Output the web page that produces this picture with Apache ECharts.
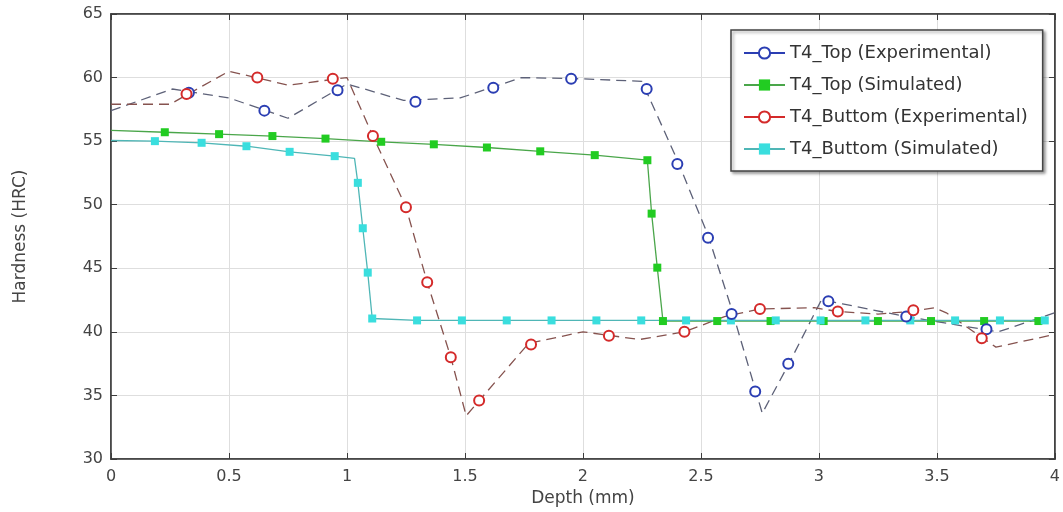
<!DOCTYPE html>
<html>
<head>
<meta charset="utf-8">
<title>Hardness vs Depth</title>
<script src="https://cdn.jsdelivr.net/npm/echarts@6/dist/echarts.min.js"></script>
<style>
  html, body { margin: 0; padding: 0; background: #fff; }
  #main { width: 1063px; height: 512px; }
</style>
</head>
<body>
<div id="main"></div>
<script>
// measured points (depth in mm, hardness in HRC)
var topExpX = [0.33, 0.65, 0.96, 1.29, 1.62, 1.95, 2.27, 2.40, 2.53, 2.63, 2.73, 2.87, 3.04, 3.37, 3.71];
var topExpY = [58.8, 57.4, 59.0, 58.1, 59.2, 59.9, 59.1, 53.2, 47.4, 41.4, 35.3, 37.5, 42.4, 41.2, 40.2];

var topFitX = [0, 0.26, 0.50, 0.75, 1.0, 1.24, 1.48, 1.74, 2.0, 2.25, 2.40, 2.53, 2.63, 2.76, 2.87, 3.01, 3.10, 3.37, 3.76, 4.0];
var topFitY = [57.4, 59.1, 58.4, 56.8, 59.5, 58.2, 58.4, 60.0, 59.9, 59.7, 53.5, 47.6, 41.8, 33.6, 37.4, 42.5, 42.2, 41.2, 40.0, 41.5];

var botExpX = [0.32, 0.62, 0.94, 1.11, 1.25, 1.34, 1.44, 1.56, 1.78, 2.11, 2.43, 2.75, 3.08, 3.40, 3.69];
var botExpY = [58.7, 60.0, 59.9, 55.4, 49.8, 43.9, 38.0, 34.6, 39.0, 39.7, 40.0, 41.8, 41.6, 41.7, 39.5];

var botFitX = [0, 0.25, 0.50, 0.75, 1.0, 1.11, 1.25, 1.34, 1.44, 1.505, 1.77, 2.0, 2.24, 2.43, 2.60, 2.75, 2.98, 3.08, 3.25, 3.39, 3.49, 3.54, 3.75, 4.0];
var botFitY = [57.9, 57.9, 60.5, 59.4, 60.0, 55.4, 49.8, 43.9, 38.0, 33.4, 39.1, 40.0, 39.4, 40.0, 41.2, 41.8, 41.9, 41.6, 41.4, 41.6, 41.9, 41.5, 38.8, 39.8];

// simulated profiles
var topSimX = [0, 0.228, 0.458, 0.684, 0.909, 1.145, 1.368, 1.593, 1.819, 2.05, 2.273, 2.291, 2.315, 2.339, 2.569, 2.795, 3.02, 3.25, 3.475, 3.70, 3.93];
var topSimY = [55.85, 55.7, 55.55, 55.4, 55.2, 54.95, 54.75, 54.5, 54.2, 53.9, 53.5, 49.3, 45.05, 40.85, 40.85, 40.85, 40.85, 40.85, 40.85, 40.85, 40.85];

var botSimX = [0, 0.186, 0.384, 0.574, 0.757, 0.948, 1.032, 1.046, 1.067, 1.088, 1.107, 1.297, 1.487, 1.677, 1.867, 2.057, 2.247, 2.437, 2.627, 2.817, 3.007, 3.197, 3.387, 3.577, 3.767, 3.957];
var botSimY = [55.05, 55.0, 54.87, 54.6, 54.16, 53.82, 53.65, 51.72, 48.15, 44.66, 41.05, 40.9, 40.9, 40.9, 40.9, 40.9, 40.9, 40.9, 40.9, 40.9, 40.9, 40.9, 40.9, 40.9, 40.9, 40.9];
var topSimHidden = [0];
var botSimHidden = [0, 6];

var xTicks = [0, 0.5, 1, 1.5, 2, 2.5, 3, 3.5, 4];

function pairs(xs, ys) {
    var out = [];
    for (var i = 0; i < xs.length; i++) {
        out.push([xs[i], ys[i]]);
    }
    return out;
}

var font = 'DejaVu Sans';
var myChart = echarts.init(document.getElementById('main'));

var option = {
    backgroundColor: '#fff',
    animation: false,
    textStyle: { fontFamily: font },
    grid: {
        left: 111,
        right: 6,
        top: 14,
        bottom: 53,
        show: true,
        borderColor: '#3c3c3c',
        borderWidth: 1.5
    },
    legend: {
        orient: 'vertical',
        left: 731,
        top: 30,
        padding: [14, 15, 13, 12],
        itemGap: 14,
        itemWidth: 41,
        itemHeight: 14,
        backgroundColor: '#fff',
        borderColor: '#444',
        borderWidth: 1.5,
        shadowColor: 'rgba(0,0,0,0.35)',
        shadowBlur: 3,
        shadowOffsetX: 2,
        shadowOffsetY: 2,
        textStyle: { fontFamily: font, fontSize: 18, color: '#333' },
        lineStyle: { opacity: 1 },
        data: ['T4_Top (Experimental)', 'T4_Top (Simulated)', 'T4_Buttom (Experimental)', 'T4_Buttom (Simulated)']
    },
    xAxis: [{
        type: 'value',
        min: 0,
        max: 4,
        interval: 0.5,
        name: 'Depth (mm)',
        nameLocation: 'middle',
        nameGap: 30,
        nameTextStyle: { fontFamily: font, fontSize: 17, color: '#444' },
        axisLine: { show: true, onZero: false, lineStyle: { color: '#3c3c3c', width: 1.5 } },
        axisTick: { show: true, inside: true, length: 6, lineStyle: { color: '#3c3c3c' } },
        axisLabel: { fontFamily: font, fontSize: 16, color: '#444', margin: 10,
            formatter: function (v) { return xTicks.indexOf(v) >= 0 ? String(v) : ''; } },
        splitLine: { show: true, lineStyle: { color: '#dedede' } }
    }, {
        type: 'value',
        position: 'top',
        min: 0,
        max: 4,
        interval: 0.5,
        axisLine: { show: true, onZero: false, lineStyle: { color: '#3c3c3c', width: 1.5 } },
        axisTick: { show: true, inside: true, length: 6, lineStyle: { color: '#3c3c3c' } },
        axisLabel: { show: false },
        splitLine: { show: false }
    }],
    yAxis: [{
        type: 'value',
        min: 30,
        max: 65,
        interval: 5,
        name: 'Hardness (HRC)',
        nameLocation: 'middle',
        nameGap: 82,
        nameTextStyle: { fontFamily: font, fontSize: 17, color: '#444' },
        axisLine: { show: true, onZero: false, lineStyle: { color: '#3c3c3c', width: 1.5 } },
        axisTick: { show: true, inside: true, length: 6, lineStyle: { color: '#3c3c3c' } },
        axisLabel: { fontFamily: font, fontSize: 16, color: '#444', margin: 8 },
        splitLine: { show: true, lineStyle: { color: '#dedede' } }
    }, {
        type: 'value',
        position: 'right',
        min: 30,
        max: 65,
        interval: 5,
        axisLine: { show: true, onZero: false, lineStyle: { color: '#3c3c3c', width: 1.5 } },
        axisTick: { show: true, inside: true, length: 6, lineStyle: { color: '#3c3c3c' } },
        axisLabel: { show: false },
        splitLine: { show: false }
    }],
    series: [{
        name: 'T4_Top fit',
        type: 'line',
        data: pairs(topFitX, topFitY),
        symbol: 'none',
        z: 2,
        lineStyle: { color: '#5d6178', width: 1.3, type: [10, 6] }
    }, {
        name: 'T4_Buttom fit',
        type: 'line',
        data: pairs(botFitX, botFitY),
        symbol: 'none',
        z: 2,
        lineStyle: { color: '#86534f', width: 1.3, type: [10, 6] }
    }, {
        name: 'T4_Top (Simulated)',
        type: 'line',
        data: pairs(topSimX, topSimY),
        symbol: 'rect',
        symbolSize: function (v, p) { return topSimHidden.indexOf(p.dataIndex) >= 0 ? 0 : 8; },
        z: 3,
        itemStyle: { color: '#22cc22' },
        lineStyle: { color: '#4aa64a', width: 1.3 }
    }, {
        name: 'T4_Buttom (Simulated)',
        type: 'line',
        data: pairs(botSimX, botSimY),
        symbol: 'rect',
        symbolSize: function (v, p) { return botSimHidden.indexOf(p.dataIndex) >= 0 ? 0 : 8; },
        z: 3,
        itemStyle: { color: '#3adede' },
        lineStyle: { color: '#4fb6b6', width: 1.3 }
    }, {
        name: 'T4_Top (Experimental)',
        type: 'line',
        data: pairs(topExpX, topExpY),
        symbol: 'emptyCircle',
        symbolSize: 10,
        z: 4,
        itemStyle: { color: '#2b3eb3', borderWidth: 2 },
        lineStyle: { color: '#2b3eb3', width: 1.5, opacity: 0 }
    }, {
        name: 'T4_Buttom (Experimental)',
        type: 'line',
        data: pairs(botExpX, botExpY),
        symbol: 'emptyCircle',
        symbolSize: 10,
        z: 5,
        itemStyle: { color: '#d42a2a', borderWidth: 2 },
        lineStyle: { color: '#d42a2a', width: 1.5, opacity: 0 }
    }]
};
myChart.setOption(option);
</script>
</body>
</html>
